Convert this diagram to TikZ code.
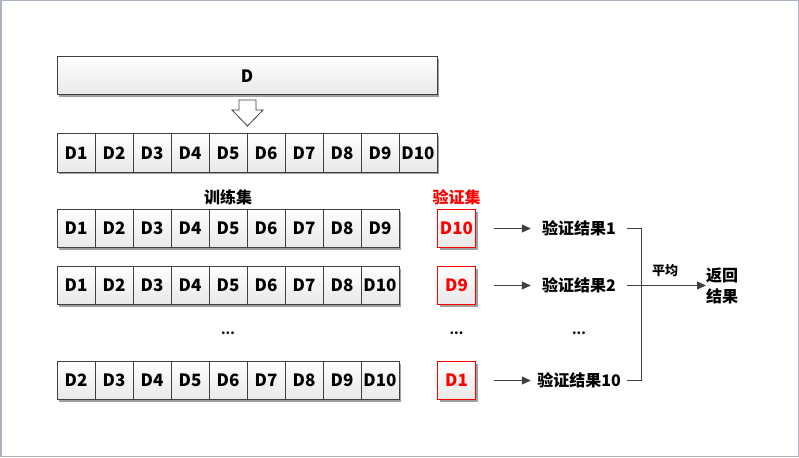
\documentclass[tikz,border=0pt]{standalone}
\usepackage{fontspec}
\setmainfont{Noto Sans CJK SC}
\usetikzlibrary{shadows,arrows.meta}
\definecolor{linec}{HTML}{404040}
\definecolor{cellbot}{HTML}{E8E8E8}
\definecolor{shadowc}{HTML}{A0A0A0}
\definecolor{framec}{HTML}{A9B4BE}
\definecolor{redc}{HTML}{FF0000}
\begin{document}
\begin{tikzpicture}[x=1pt,y=-1pt,
  cell/.style={draw=linec, line width=1pt, minimum width=38pt, minimum height=38pt, inner sep=0pt,
    top color=white, bottom color=cellbot, font=\bfseries\fontsize{17}{17}\selectfont,
    drop shadow={shadow xshift=2pt, shadow yshift=-2pt, fill=shadowc, opacity=1}},
  valcell/.style={cell, draw=redc, text=redc},
  lbl/.style={inner sep=0pt, font=\bfseries\fontsize{16}{16}\selectfont},
  res/.style={inner sep=0pt, minimum width=96pt, minimum height=20pt, font=\bfseries\fontsize{16}{16}\selectfont},
  dots/.style={inner sep=0pt, font=\bfseries\fontsize{13}{13}\selectfont},
  arr/.style={draw=linec, line width=1pt, -{Triangle[length=9pt,width=8pt]}},
  ln/.style={draw=linec, line width=1pt}
]
\useasboundingbox (0,0) rectangle (799,457);
\draw[framec, line width=1.5pt] (0.75,0.75) rectangle (798.25,456.25);

% top D box
\node[cell, minimum width=380pt] (D) at (247,76) {D};
% hollow down arrow
\draw[draw=linec, fill=white, line width=0.8pt] (239,100) -- (256,100) -- (256,110) -- (263,110) -- (247.5,126) -- (232,110) -- (239,110) -- cycle;

% row 0
\foreach \t [count=\i] in {D1,D2,D3,D4,D5,D6,D7,D8,D9,D10}
  \node[cell] (a\i) at ({76+38*(\i-1)},153) {\t};

% labels
\node[lbl] (train) at (228,197) {训练集};
\node[lbl, text=redc] (val) at (456.5,197) {验证集};

% row 1
\foreach \t [count=\i] in {D1,D2,D3,D4,D5,D6,D7,D8,D9}
  \node[cell] (b\i) at ({76+38*(\i-1)},228.5) {\t};
% row 2
\foreach \t [count=\i] in {D1,D2,D3,D4,D5,D6,D7,D8,D10}
  \node[cell] (c\i) at ({76+38*(\i-1)},285.5) {\t};
% row 3
\foreach \t [count=\i] in {D2,D3,D4,D5,D6,D7,D8,D9,D10}
  \node[cell] (d\i) at ({76+38*(\i-1)},380.5) {\t};

% validation cells
\node[valcell] (v1) at (456.5,228.5) {D10};
\node[valcell] (v2) at (456.5,285.5) {D9};
\node[valcell] (v3) at (456.5,380.5) {D1};

% dots
\node[dots] (dt1) at (228,333) {...};
\node[dots] (dt2) at (456.5,333) {...};
\node[dots] (dt3) at (579,333) {...};

% results
\node[res] (r1) at (579,228.5) {验证结果1};
\node[res] (r2) at (579,285.5) {验证结果2};
\node[res] (r3) at (579,380.5) {验证结果10};

\draw[arr, shorten <=18pt] (v1) -- (r1);
\draw[arr, shorten <=18pt] (v2) -- (r2);
\draw[arr, shorten <=18pt] (v3) -- (r3);

\coordinate (jt) at (641,228.5);
\coordinate (jb) at (641,380.5);
\draw[ln] (r1.east) -- (jt) -- (jb) -- (r3.east);

\node[inner sep=0pt, align=center, text width=32pt, font=\bfseries\fontsize{16}{21}\selectfont, anchor=west] (ret) at (706,285.5) {返回\\结果};
\draw[arr] (r2.east) -- (ret.west);
\node[inner sep=0pt, font=\bfseries\fontsize{13}{13}\selectfont] (avg) at (665,271) {平均};
\end{tikzpicture}
\end{document}
